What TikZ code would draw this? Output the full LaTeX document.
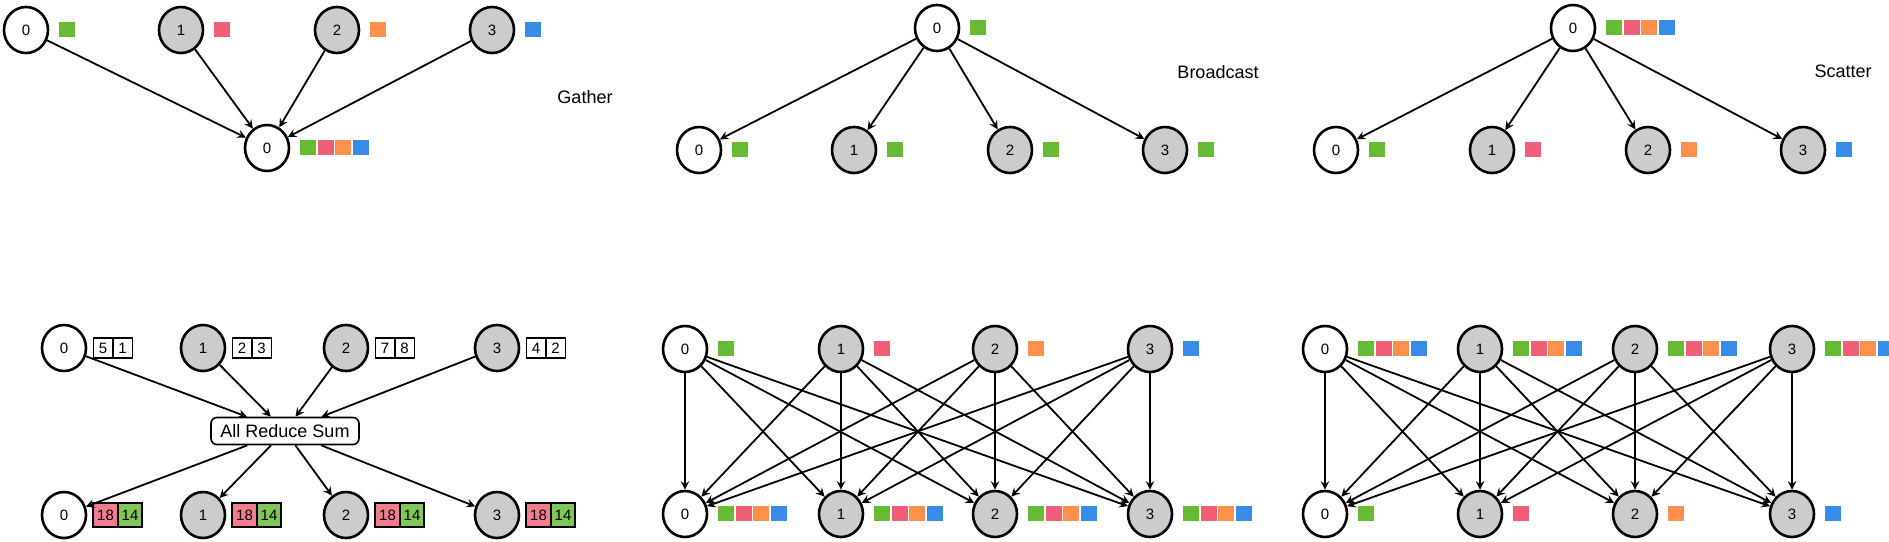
\documentclass[tikz,border=0pt]{standalone}
\usepackage{fontspec}
\setmainfont{Liberation Sans}
\usepackage{tikz}
\usepackage{xcolor}
\usetikzlibrary{
    arrows,
    shapes,
    positioning
}
\definecolor{chipgreen}{RGB}{102,187,51}
\definecolor{chippink}{RGB}{240,94,120}
\definecolor{chiporange}{RGB}{255,145,77}
\definecolor{chipblue}{RGB}{56,140,232}
\definecolor{peergray}{RGB}{204,204,204}
\definecolor{sumpink}{RGB}{242,125,140}
\definecolor{sumgreen}{RGB}{128,198,88}
\newcommand{\rankfont}{\fontsize{7.5}{9}\selectfont}
\newcommand{\opfont}{\fontsize{9}{11}\selectfont}
\newcommand{\chiprow}[2]{%
    \foreach \chipcol [count=\idx from 0] in {#2}
        \fill[\chipcol] ([xshift=5pt+\idx*8.7pt, yshift=-3.25pt]#1.east) rectangle ++(8pt,7.5pt);%
}
\tikzset{
    rank/.style={draw, ellipse, line width=1.3pt, minimum width=22pt, minimum height=23pt, inner sep=0pt, font=\rankfont},
    root/.style={rank, fill=white},
    peer/.style={rank, fill=peergray},
    link/.style={->, >=stealth, line width=0.9pt},
    cell/.style={draw, rectangle, line width=0.8pt, outer sep=0pt, inner sep=0pt, minimum width=9.75pt, minimum height=10pt, font=\rankfont},
    bigcell/.style={cell, line width=1pt, minimum width=12.25pt, minimum height=12pt},
    sumbox/.style={draw, rounded corners=3pt, line width=0.8pt, minimum width=74pt, minimum height=13.5pt, font=\opfont},
    oplabel/.style={font=\opfont}
}

\begin{document}
\begin{tikzpicture}[x=0.5pt, y=-0.5pt]
            \useasboundingbox (0,0) rectangle (1889,541);

            % Gather
            \node[root] (gin0) at (26,30) {0};
            \node[peer] (gin1) at (181,30) {1};
            \node[peer] (gin2) at (337,30) {2};
            \node[peer] (gin3) at (492,30) {3};
            \node[root] (gout0) at (267,148) {0};
            \chiprow{gin0}{chipgreen}
            \chiprow{gin1}{chippink}
            \chiprow{gin2}{chiporange}
            \chiprow{gin3}{chipblue}
            \chiprow{gout0}{chipgreen,chippink,chiporange,chipblue}

            \draw[link] (gin0)--(gout0);
            \draw[link] (gin1)--(gout0);
            \draw[link] (gin2)--(gout0);
            \draw[link] (gin3)--(gout0);

            \node[oplabel] (gather) at (585,97) {Gather};

            % Broadcast
            \node[root] (bin0) at (937,28) {0};
            \node[root] (bout0) at (699,150) {0};
            \node[peer] (bout1) at (854,150) {1};
            \node[peer] (bout2) at (1010,150) {2};
            \node[peer] (bout3) at (1165,150) {3};
            \chiprow{bin0}{chipgreen}
            \chiprow{bout0}{chipgreen}
            \chiprow{bout1}{chipgreen}
            \chiprow{bout2}{chipgreen}
            \chiprow{bout3}{chipgreen}

            \draw[link] (bin0)--(bout0);
            \draw[link] (bin0)--(bout1);
            \draw[link] (bin0)--(bout2);
            \draw[link] (bin0)--(bout3);

            \node[oplabel] (broadcast) at (1218,72) {Broadcast};

            % Scatter
            \node[root] (sin0) at (1573,28) {0};
            \node[root] (sout0) at (1336,150) {0};
            \node[peer] (sout1) at (1492,150) {1};
            \node[peer] (sout2) at (1648,150) {2};
            \node[peer] (sout3) at (1803,150) {3};
            \chiprow{sin0}{chipgreen,chippink,chiporange,chipblue}
            \chiprow{sout0}{chipgreen}
            \chiprow{sout1}{chippink}
            \chiprow{sout2}{chiporange}
            \chiprow{sout3}{chipblue}

            \draw[link] (sin0)--(sout0);
            \draw[link] (sin0)--(sout1);
            \draw[link] (sin0)--(sout2);
            \draw[link] (sin0)--(sout3);

            \node[oplabel] (scatter) at (1843,71) {Scatter};

            % All reduce
            \node[root] (rin0) at (64,348) {0};
            \node[peer] (rin1) at (203,348) {1};
            \node[peer] (rin2) at (346,348) {2};
            \node[peer] (rin3) at (497,348) {3};
            \node[cell, right=3pt of rin0] (rin0a) {5};
            \node[cell, right=0pt of rin0a] (rin0b) {1};
            \node[cell, right=3pt of rin1] (rin1a) {2};
            \node[cell, right=0pt of rin1a] (rin1b) {3};
            \node[cell, right=3pt of rin2] (rin2a) {7};
            \node[cell, right=0pt of rin2a] (rin2b) {8};
            \node[cell, right=3pt of rin3] (rin3a) {4};
            \node[cell, right=0pt of rin3a] (rin3b) {2};

            \node[sumbox] (sum) at (285,431) {All Reduce Sum};

            \node[root] (rout0) at (64,515) {0};
            \node[peer] (rout1) at (203,515) {1};
            \node[peer] (rout2) at (346,515) {2};
            \node[peer] (rout3) at (497,515) {3};
            \node[bigcell, fill=sumpink, right=3pt of rout0] (rout0a) {18};
            \node[bigcell, fill=sumgreen, right=0pt of rout0a] (rout0b) {14};
            \node[bigcell, fill=sumpink, right=3pt of rout1] (rout1a) {18};
            \node[bigcell, fill=sumgreen, right=0pt of rout1a] (rout1b) {14};
            \node[bigcell, fill=sumpink, right=3pt of rout2] (rout2a) {18};
            \node[bigcell, fill=sumgreen, right=0pt of rout2a] (rout2b) {14};
            \node[bigcell, fill=sumpink, right=3pt of rout3] (rout3a) {18};
            \node[bigcell, fill=sumgreen, right=0pt of rout3a] (rout3b) {14};

            \draw[link] (rin0)--(sum);
            \draw[link] (rin1)--(sum);
            \draw[link] (rin2)--(sum);
            \draw[link] (rin3)--(sum);

            \draw[link] (sum)--(rout0);
            \draw[link] (sum)--(rout1);
            \draw[link] (sum)--(rout2);
            \draw[link] (sum)--(rout3);

            % All gather
            \node[root] (ain0) at (685,349) {0};
            \node[peer] (ain1) at (841,349) {1};
            \node[peer] (ain2) at (995,349) {2};
            \node[peer] (ain3) at (1150,349) {3};
            \node[root] (aout0) at (685,514) {0};
            \node[peer] (aout1) at (841,514) {1};
            \node[peer] (aout2) at (995,514) {2};
            \node[peer] (aout3) at (1150,514) {3};
            \chiprow{ain0}{chipgreen}
            \chiprow{ain1}{chippink}
            \chiprow{ain2}{chiporange}
            \chiprow{ain3}{chipblue}
            \chiprow{aout0}{chipgreen,chippink,chiporange,chipblue}
            \chiprow{aout1}{chipgreen,chippink,chiporange,chipblue}
            \chiprow{aout2}{chipgreen,chippink,chiporange,chipblue}
            \chiprow{aout3}{chipgreen,chippink,chiporange,chipblue}

            \draw[link] (ain0)--(aout0);
            \draw[link] (ain0)--(aout1);
            \draw[link] (ain0)--(aout2);
            \draw[link] (ain0)--(aout3);

            \draw[link] (ain1)--(aout0);
            \draw[link] (ain1)--(aout1);
            \draw[link] (ain1)--(aout2);
            \draw[link] (ain1)--(aout3);

            \draw[link] (ain2)--(aout0);
            \draw[link] (ain2)--(aout1);
            \draw[link] (ain2)--(aout2);
            \draw[link] (ain2)--(aout3);

            \draw[link] (ain3)--(aout0);
            \draw[link] (ain3)--(aout1);
            \draw[link] (ain3)--(aout2);
            \draw[link] (ain3)--(aout3);

            % Reduce scatter
            \node[root] (xin0) at (1325,349) {0};
            \node[peer] (xin1) at (1480,349) {1};
            \node[peer] (xin2) at (1635,349) {2};
            \node[peer] (xin3) at (1792,349) {3};
            \node[root] (xout0) at (1325,514) {0};
            \node[peer] (xout1) at (1480,514) {1};
            \node[peer] (xout2) at (1635,514) {2};
            \node[peer] (xout3) at (1792,514) {3};
            \chiprow{xin0}{chipgreen,chippink,chiporange,chipblue}
            \chiprow{xin1}{chipgreen,chippink,chiporange,chipblue}
            \chiprow{xin2}{chipgreen,chippink,chiporange,chipblue}
            \chiprow{xin3}{chipgreen,chippink,chiporange,chipblue}
            \chiprow{xout0}{chipgreen}
            \chiprow{xout1}{chippink}
            \chiprow{xout2}{chiporange}
            \chiprow{xout3}{chipblue}

            \draw[link] (xin0)--(xout0);
            \draw[link] (xin0)--(xout1);
            \draw[link] (xin0)--(xout2);
            \draw[link] (xin0)--(xout3);

            \draw[link] (xin1)--(xout0);
            \draw[link] (xin1)--(xout1);
            \draw[link] (xin1)--(xout2);
            \draw[link] (xin1)--(xout3);

            \draw[link] (xin2)--(xout0);
            \draw[link] (xin2)--(xout1);
            \draw[link] (xin2)--(xout2);
            \draw[link] (xin2)--(xout3);

            \draw[link] (xin3)--(xout0);
            \draw[link] (xin3)--(xout1);
            \draw[link] (xin3)--(xout2);
            \draw[link] (xin3)--(xout3);
\end{tikzpicture}
\end{document}
